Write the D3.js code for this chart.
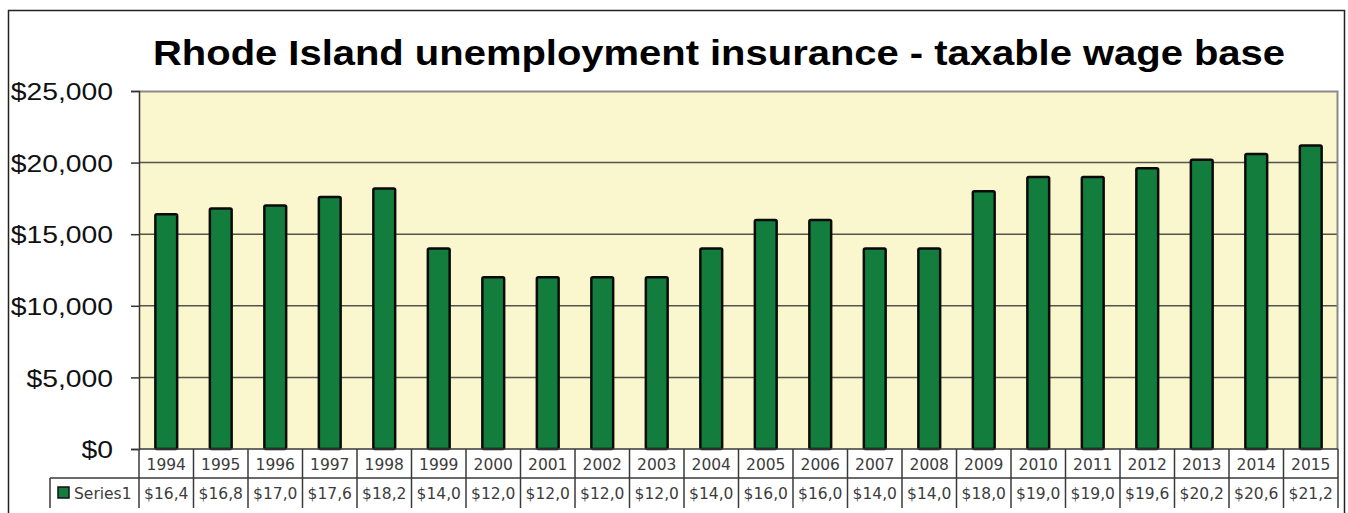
<!DOCTYPE html>
<html>
<head>
<meta charset="utf-8">
<script src="https://cdn.jsdelivr.net/npm/d3@7"></script>
<style>
  body { margin: 0; background: #fff; }
  svg { display: block; }
</style>
</head>
<body>
<div id="chart"></div>
<script>
const years = ["1994","1995","1996","1997","1998","1999","2000","2001","2002","2003","2004",
               "2005","2006","2007","2008","2009","2010","2011","2012","2013","2014","2015"];
const wageBase = [16400, 16800, 17000, 17600, 18200, 14000, 12000, 12000, 12000, 12000, 14000,
                  16000, 16000, 14000, 14000, 18000, 19000, 19000, 19600, 20200, 20600, 21200];
const yTicks = [0, 5000, 10000, 15000, 20000, 25000];
const seriesName = "Series1";

const width = 1348, height = 513;
const margin = { top: 91, right: 10, bottom: 64, left: 139 };
const innerWidth = 1338 - margin.left;
const innerHeight = 449 - margin.top;

const svg = d3.select("#chart")
    .append("svg")
    .attr("width", width)
    .attr("height", height);

// outer frame
svg.append("rect")
    .attr("x", 8.5).attr("y", 10.5)
    .attr("width", 1336).attr("height", 600)
    .attr("fill", "none")
    .attr("stroke", "#222")
    .attr("stroke-width", 1.5);

// title
svg.append("text")
    .attr("x", 719)
    .attr("y", 65)
    .attr("text-anchor", "middle")
    .attr("textLength", 1132)
    .attr("lengthAdjust", "spacingAndGlyphs")
    .style("font-family", "'Liberation Sans', Arial, sans-serif")
    .style("font-weight", "bold")
    .style("font-size", "35px")
    .style("fill", "#000")
    .text("Rhode Island unemployment insurance - taxable wage base");

const x = d3.scaleBand()
    .domain(years)
    .range([0, innerWidth])
    .paddingInner(0.6)
    .paddingOuter(0.3);

const y = d3.scaleLinear()
    .domain([0, 25000])
    .range([innerHeight, 0]);

const g = svg.append("g")
    .attr("transform", `translate(${margin.left}, ${margin.top})`);

// plot background
g.append("rect")
    .attr("width", innerWidth)
    .attr("height", innerHeight)
    .attr("fill", "#FAF6CE");

// gridlines
g.selectAll(".grid")
    .data(yTicks.filter(t => t > 0 && t < 25000))
    .join("line")
    .attr("x1", 0).attr("x2", innerWidth)
    .attr("y1", d => y(d)).attr("y2", d => y(d))
    .attr("stroke", "#55544a")
    .attr("stroke-width", 1.5);

// plot top / right border
g.append("path")
    .attr("d", `M0,0.5H${innerWidth - 0.5}V${innerHeight}`)
    .attr("fill", "none")
    .attr("stroke", "#8a8a8a")
    .attr("stroke-width", 2);

// bars
g.selectAll(".bar")
    .data(wageBase)
    .join("rect")
    .attr("class", "bar")
    .attr("x", (d, i) => x(years[i]))
    .attr("y", d => y(d))
    .attr("width", x.bandwidth())
    .attr("height", d => innerHeight - y(d))
    .attr("rx", 1.5)
    .attr("fill", "#137D3D")
    .attr("stroke", "#0a0a0a")
    .attr("stroke-width", 2.5);

// y axis
const yAxis = g.append("g")
    .call(d3.axisLeft(y).tickValues(yTicks).tickSize(8).tickPadding(26)
        .tickFormat(d => "$" + d3.format(",")(d)));
yAxis.select(".domain").attr("stroke", "#333").attr("stroke-width", 1.5);
yAxis.selectAll(".tick line").attr("stroke", "#333").attr("stroke-width", 1.5);
yAxis.selectAll(".tick text")
    .attr("x", -26 / 1.18)
    .attr("dy", "0.36em")
    .attr("transform", "scale(1.18,1)")
    .style("font-family", "'Liberation Sans', Arial, sans-serif")
    .style("font-size", "24px")
    .style("fill", "#111");

// data table
const table = svg.append("g").attr("transform", `translate(${margin.left}, 449)`);
const rowH = 29;
const lineColor = "#3a3a3a";
const tableFont = "'DejaVu Sans', Verdana, sans-serif";
const tableSize = "15.5px";
const tableText = "#3c3c3c";

// horizontal lines
table.append("line")
    .attr("x1", 0).attr("x2", innerWidth)
    .attr("y1", 0).attr("y2", 0)
    .attr("stroke", lineColor).attr("stroke-width", 1.5);
table.append("line")
    .attr("x1", 50 - margin.left).attr("x2", innerWidth)
    .attr("y1", rowH).attr("y2", rowH)
    .attr("stroke", lineColor).attr("stroke-width", 1.5);
// vertical lines at category borders
const borders = years.map(yr => x(yr) - x.step() * x.paddingInner() / 2).concat([innerWidth]);
table.selectAll(".vline")
    .data(borders)
    .join("line")
    .attr("x1", d => d).attr("x2", d => d)
    .attr("y1", 0).attr("y2", 59)
    .attr("stroke", lineColor).attr("stroke-width", 1.5);
table.append("line")
    .attr("x1", 50 - margin.left).attr("x2", 50 - margin.left)
    .attr("y1", rowH).attr("y2", 59)
    .attr("stroke", lineColor).attr("stroke-width", 1.5);

// year labels
table.selectAll(".yr")
    .data(years)
    .join("text")
    .attr("x", d => x(d) + x.bandwidth() / 2)
    .attr("y", 21)
    .attr("text-anchor", "middle")
    .style("font-family", tableFont)
    .style("font-size", tableSize)
    .style("fill", tableText)
    .text(d => d);

// value cells: the narrow cells only show the first five characters
table.selectAll(".val")
    .data(wageBase)
    .join("text")
    .attr("x", (d, i) => x(years[i]) + x.bandwidth() / 2)
    .attr("y", rowH + 21)
    .attr("text-anchor", "middle")
    .style("font-family", tableFont)
    .style("font-size", tableSize)
    .style("fill", tableText)
    .text(d => ("$" + d3.format(",")(d)).slice(0, 5));

// legend key
table.append("rect")
    .attr("x", 58 - margin.left).attr("y", rowH + 9)
    .attr("width", 11).attr("height", 11)
    .attr("fill", "#137D3D")
    .attr("stroke", "#111")
    .attr("stroke-width", 1.5);
table.append("text")
    .attr("x", 74 - margin.left)
    .attr("y", rowH + 21)
    .style("font-family", tableFont)
    .style("font-size", tableSize)
    .style("fill", tableText)
    .text(seriesName);
</script>
</body>
</html>
